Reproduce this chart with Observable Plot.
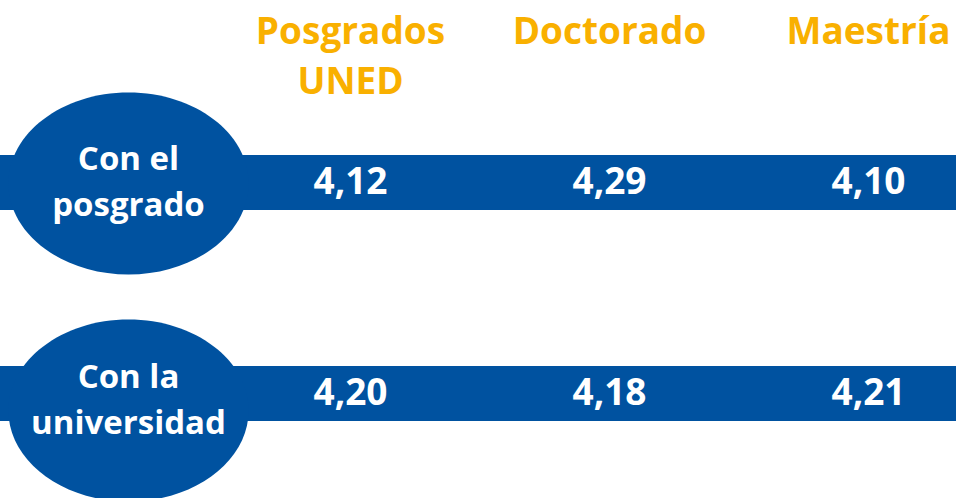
<!DOCTYPE html>
<html>
<head>
<meta charset="utf-8">
<script src="https://cdn.jsdelivr.net/npm/d3@7"></script>
<script src="https://cdn.jsdelivr.net/npm/@observablehq/plot@0.6"></script>
<style>
  html, body { margin: 0; padding: 0; background: #fff; }
  #chart svg { display: block; }
</style>
</head>
<body>
<div id="chart"></div>
<script>
// Data
const columns = ["Posgrados UNED", "Doctorado", "Maestría"];
const rows = ["Con el posgrado", "Con la universidad"];
const valuesPosgrado = [4.12, 4.29, 4.10];
const valuesUniversidad = [4.20, 4.18, 4.21];

const seriesByRow = [valuesPosgrado, valuesUniversidad];
const cells = rows.flatMap((r, i) => columns.map((c, j) => ({row: r, col: c, value: seriesByRow[i][j]})));
const rowData = rows.map(r => ({row: r}));
const colData = columns.map(c => ({col: c}));

const BLUE = "#0052a0";
const ORANGE = "#f9b000";
const FONT = "'Open Sans', sans-serif";

// ellipse symbol
const ellipse = {
  draw(ctx, size) {
    const r = Math.sqrt(size / Math.PI);
    const rx = r * 1.32, ry = r, k = 0.5523;
    ctx.moveTo(rx, 0);
    ctx.bezierCurveTo(rx, ry * k, rx * k, ry, 0, ry);
    ctx.bezierCurveTo(-rx * k, ry, -rx, ry * k, -rx, 0);
    ctx.bezierCurveTo(-rx, -ry * k, -rx * k, -ry, 0, -ry);
    ctx.bezierCurveTo(rx * k, -ry, rx, -ry * k, rx, 0);
    ctx.closePath();
  }
};

const ellipseDy = [1, 17];
const labelDy = [-4, 3];

const fmt = v => v.toFixed(2).replace(".", ",");

const chart = Plot.plot({
  width: 956,
  height: 498,
  margin: 0,
  style: {fontFamily: FONT, background: "#fff"},
  x: {type: "point", domain: columns, range: [350, 868], padding: 0, axis: null},
  y: {type: "point", domain: rows, range: [182, 393], padding: 0, axis: null},
  marks: [
    // bands
    Plot.ruleY(rowData, {y: "row", stroke: BLUE, strokeWidth: 55}),
    // ellipses
    ...rows.map((r, i) => Plot.dot(rowData.filter(d => d.row === r), {
      y: "row", frameAnchor: "left", dx: 128, dy: ellipseDy[i],
      r: 91, symbol: ellipse, fill: BLUE, stroke: "none"
    })),
    // row labels
    ...rows.map((r, i) => Plot.text(rowData.filter(d => d.row === r), {
      y: "row", frameAnchor: "left", dx: 128, dy: labelDy[i], textAnchor: "middle",
      text: d => d.row.replace(/^(\S+ \S+) /, "$1\n"),
      fill: "white", fontSize: 33, fontWeight: "bold", lineHeight: 1.4
    })),
    // values
    Plot.text(cells, {
      x: "col", y: "row", text: d => fmt(d.value),
      fill: "white", fontSize: 37, fontWeight: "bold"
    }),
    // column headers
    Plot.text(colData, {
      x: "col", frameAnchor: "top", dy: 7, text: "col", lineWidth: 6,
      fill: ORANGE, fontSize: 37, fontWeight: "bold", lineHeight: 1.37
    })
  ]
});

document.getElementById("chart").appendChild(chart);
</script>
</body>
</html>
